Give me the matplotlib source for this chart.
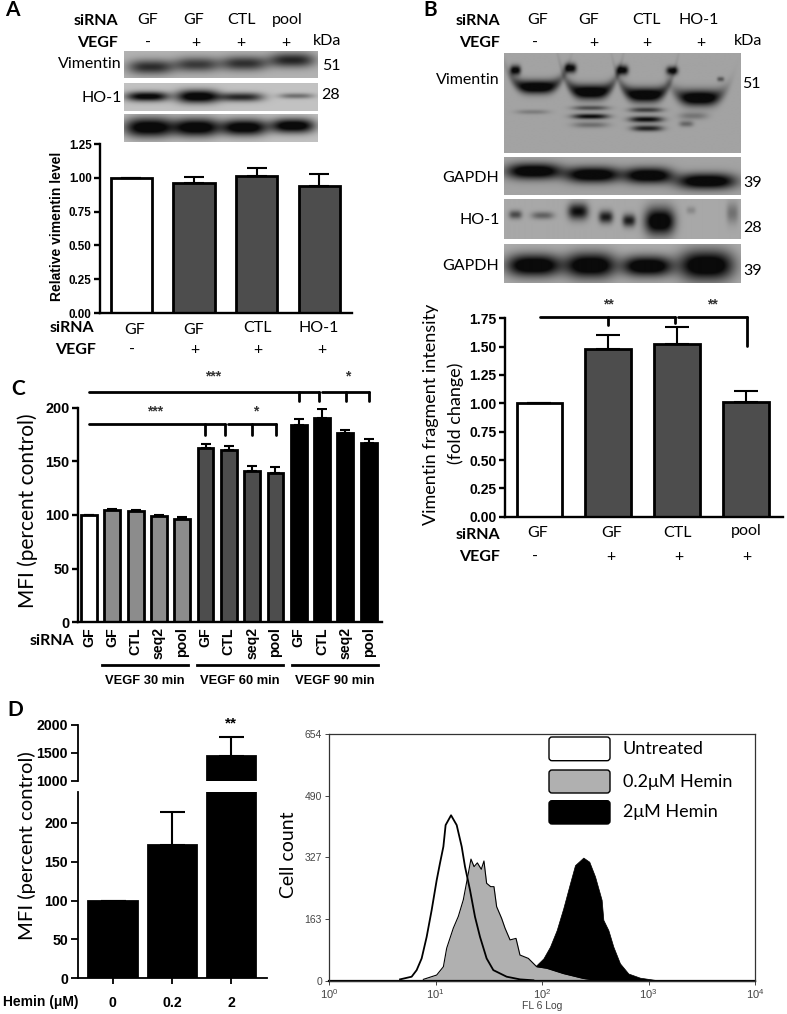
import numpy as np
import matplotlib
matplotlib.use("Agg")
import matplotlib.pyplot as plt
from matplotlib.patches import FancyBboxPatch

W, H = 787, 1014
LABEL_FONT = ["Lato", "DejaVu Sans"]
TICK_FONT = "Liberation Sans"
DARK = "#4d4d4d"
MID = "#8c8c8c"

plt.rcParams["font.family"] = LABEL_FONT

# Panel A
A_VALUES = [1.00, 0.96, 1.01, 0.94]
A_ERRORS = [0.0, 0.045, 0.065, 0.085]
A_TICKS = [0.00, 0.25, 0.50, 0.75, 1.00, 1.25]

# Panel B
B_VALUES = [1.00, 1.48, 1.52, 1.01]
B_ERRORS = [0.0, 0.12, 0.15, 0.10]
B_TICKS = [0.00, 0.25, 0.50, 0.75, 1.00, 1.25, 1.50, 1.75]

# Panel C
C_LABELS = ["GF", "GF", "CTL", "seq2", "pool", "GF", "CTL", "seq2", "pool", "GF", "CTL", "seq2", "pool"]
C_VALUES = [100, 105, 104, 99, 96, 162, 161, 141, 139, 184, 190, 176, 167]
C_ERRORS = [0, 0.5, 1, 1, 2, 4.5, 3.5, 4.5, 5.5, 5.5, 8.5, 3.5, 3.5]
C_GROUPS = ["VEGF 30 min", "VEGF 60 min", "VEGF 90 min"]
C_TICKS = [0, 50, 100, 150, 200]

# Panel D, bars
D_LABELS = ["0", "0.2", "2"]
D_VALUES = [100, 172, 1450]
D_ERRORS = [0, 42, 330]
D_TICKS_LOW = [0, 50, 100, 150, 200]
D_TICKS_HIGH = [1000, 1500, 2000]

# Panel D, histogram (log10 of FL6, cell count)
UNTREATED_LOG = [0.667, 0.776, 0.823, 0.870, 0.917, 0.964, 1.011, 1.042, 1.074, 1.095, 1.146, 1.199,
                 1.246, 1.277, 1.324, 1.371, 1.418, 1.480, 1.543, 1.668, 1.793, 1.919]
UNTREATED_COUNT = [3.5, 10.6, 28, 59, 116, 187, 266, 311, 355, 412, 438, 412,
                   355, 302, 240, 169, 116, 59, 28, 10.6, 3.5, 1]
LOW_HEMIN_LOG = [0.886, 1.011, 1.074, 1.105, 1.167, 1.214, 1.261, 1.308, 1.333, 1.362, 1.393, 1.430, 1.455, 1.480,
                 1.518, 1.549, 1.574, 1.621, 1.653, 1.700, 1.756, 1.793, 1.872, 1.950, 2.044, 2.200, 2.388, 2.513]
LOW_HEMIN_COUNT = [3.5, 15, 37, 86, 139, 170, 214, 284, 322, 302, 312, 295, 317, 258,
                   249, 249, 196, 165, 139, 108, 112, 68, 59, 37, 33, 19, 6, 1]
HIGH_HEMIN_LOG = [1.919, 2.013, 2.075, 2.138, 2.200, 2.263, 2.310, 2.357, 2.388, 2.444, 2.498, 2.560, 2.576,
                  2.623, 2.670, 2.732, 2.811, 2.920, 3.077, 3.171]
HIGH_HEMIN_COUNT = [33, 59, 90, 134, 192, 258, 306, 318, 326, 315, 276, 214, 161,
                    134, 90, 46, 19, 8, 1.5, 0.5]
HIST_TICKS = [0, 163, 327, 490, 654]

fig = plt.figure(figsize=(W / 100, H / 100), dpi=100, facecolor="white")


def px_ax(left, top, right, bottom):
    return fig.add_axes([left / W, 1 - bottom / H, (right - left) / W, (bottom - top) / H])


# x0, x1, y, thickness, strength, smile (all as fractions of the blot)
def blot(left, top, right, bottom, bands, bg=0.72):
    ax = px_ax(left, top, right, bottom)
    nx, ny = int((right - left) * 2), int((bottom - top) * 2)
    xx, yy = np.meshgrid(np.linspace(0, 1, nx), np.linspace(0, 1, ny))
    dark = np.zeros_like(xx)
    for x0, x1, y, th, s, smile in bands:
        mid, hw = (x0 + x1) / 2, (x1 - x0) / 2
        along = np.exp(-np.abs((xx - mid) / hw) ** 3)
        yc = y - smile * ((xx - mid) / hw) ** 4
        dark += s * along * np.exp(-np.abs((yy - yc) / (th * 1.2)) ** 2)
    img = bg * (1 - np.clip(dark, 0, 1)) + 0.04
    ax.imshow(img, cmap="gray", vmin=0, vmax=1, aspect="auto", interpolation="bilinear")
    ax.axis("off")


blot(124, 50.7, 318, 78.3, [(0.02, 0.255, 0.61, 0.22, 0.8, 0), (0.26, 0.49, 0.52, 0.22, 0.72, 0),
                            (0.50, 0.74, 0.48, 0.22, 0.78, 0), (0.75, 0.985, 0.36, 0.22, 0.85, 0)], 0.66)
blot(124, 82.7, 318, 110.7, [(0.01, 0.23, 0.50, 0.14, 1.1, 0), (0.27, 0.49, 0.50, 0.19, 1.2, 0),
                             (0.49, 0.72, 0.52, 0.13, 0.85, 0), (0.80, 0.98, 0.48, 0.08, 0.45, 0)], 0.72)
blot(124, 114.3, 318, 141.7, [(0.0, 0.26, 0.48, 0.30, 1.2, 0), (0.26, 0.49, 0.48, 0.28, 1.2, 0),
                              (0.50, 0.74, 0.48, 0.25, 1.2, 0), (0.76, 0.985, 0.42, 0.22, 1.2, 0)], 0.72)

blot(504, 53, 740.7, 152.7, [(0.025, 0.07, 0.17, 0.04, 1.1, 0), (0.255, 0.305, 0.15, 0.04, 1.1, 0),
                             (0.475, 0.525, 0.17, 0.04, 1.1, 0), (0.685, 0.735, 0.175, 0.035, 1.0, 0),
                             (0.90, 0.93, 0.26, 0.02, 0.5, 0),
                             (0.04, 0.235, 0.34, 0.055, 1.3, 0.06), (0.27, 0.46, 0.39, 0.06, 1.3, 0.08),
                             (0.50, 0.69, 0.42, 0.06, 1.3, 0.08), (0.73, 0.92, 0.45, 0.065, 1.3, 0.04),
                             (0.05, 0.19, 0.59, 0.02, 0.25, 0),
                             (0.29, 0.44, 0.55, 0.02, 0.55, 0), (0.29, 0.44, 0.635, 0.022, 1.0, 0),
                             (0.29, 0.44, 0.72, 0.025, 0.35, 0),
                             (0.53, 0.67, 0.57, 0.022, 0.65, 0), (0.53, 0.67, 0.665, 0.025, 1.0, 0),
                             (0.54, 0.67, 0.755, 0.025, 0.85, 0),
                             (0.74, 0.86, 0.63, 0.03, 0.3, 0), (0.74, 0.80, 0.71, 0.025, 0.4, 0)], 0.60)
blot(504, 156.7, 740.7, 195, [(0.01, 0.24, 0.39, 0.17, 1.3, 0), (0.26, 0.49, 0.48, 0.17, 1.3, 0),
                              (0.51, 0.71, 0.50, 0.17, 1.3, 0), (0.73, 0.98, 0.65, 0.17, 1.3, 0)], 0.60)
blot(504, 199.3, 740.7, 239.3, [(0.02, 0.075, 0.39, 0.09, 0.6, 0), (0.115, 0.21, 0.41, 0.08, 0.45, 0),
                                (0.27, 0.355, 0.31, 0.17, 1.0, 0), (0.40, 0.46, 0.45, 0.13, 0.9, 0),
                                (0.50, 0.555, 0.54, 0.13, 0.9, 0), (0.595, 0.72, 0.56, 0.28, 1.3, 0),
                                (0.77, 0.81, 0.28, 0.08, 0.2, 0), (0.94, 0.99, 0.35, 0.22, 0.35, 0)], 0.62)
blot(504, 244.3, 740.7, 283.3, [(0.01, 0.24, 0.55, 0.24, 1.3, 0), (0.26, 0.47, 0.55, 0.27, 1.3, 0),
                                (0.50, 0.71, 0.57, 0.22, 1.3, 0), (0.74, 0.97, 0.55, 0.32, 1.3, 0)], 0.64)


def style_axes(ax, ticks, fmt, size, ticklen=4, lw=1.7):
    ax.spines["top"].set_visible(False)
    ax.spines["right"].set_visible(False)
    ax.spines["left"].set_linewidth(lw)
    ax.spines["bottom"].set_linewidth(lw)
    ax.set_yticks(ticks)
    ax.set_yticklabels([fmt % t for t in ticks], family=TICK_FONT, weight="bold", fontsize=size)
    ax.tick_params(axis="y", length=ticklen, width=lw, pad=2)
    ax.tick_params(axis="x", length=0)
    ax.set_xticks([])
    ax.patch.set_alpha(0)


def bars(ax, values, errors, colors, width, capsize, lw=2.0):
    xs = np.arange(len(values))
    ax.bar(xs, values, width=width, color=colors, edgecolor="black", linewidth=lw,
           yerr=[np.zeros(len(errors)), errors],
           error_kw=dict(ecolor="black", elinewidth=1.5, capsize=capsize, capthick=1.5))


def bracket(ax, x0, x1, y, drops, low):
    ax.plot([x0, x1], [y, y], color="black", lw=2.0, clip_on=False, solid_capstyle="round")
    for d, end in zip(drops, low):
        ax.plot([d, d], [y, end], color="black", lw=2.0, clip_on=False, solid_capstyle="round")


# Panel A chart
ax_a = px_ax(100, 144, 352, 313)
bars(ax_a, A_VALUES, A_ERRORS, ["white", DARK, DARK, DARK], 0.66, 7.2)
ax_a.set_xlim(-0.5, 3.52)
ax_a.set_ylim(0, 1.25)
style_axes(ax_a, A_TICKS, "%.2f", 8.4)

# Panel B chart
ax_b = px_ax(505, 318.3, 782.7, 516.7)
bars(ax_b, B_VALUES, B_ERRORS, ["white", DARK, DARK, DARK], 0.66, 8.4)
ax_b.set_xlim(-0.497, 3.53)
ax_b.set_ylim(0, 1.75)
style_axes(ax_b, B_TICKS, "%.2f", 10)
bracket(ax_b, 0.01, 1.97, 1.758, [0.99, 1.97], [1.69, 1.71])
bracket(ax_b, 2.01, 3.01, 1.758, [3.01], [1.505])

# Panel C chart
ax_c = px_ax(77.7, 407.7, 381.7, 622.3)
c_colors = ["white"] + [MID] * 4 + [DARK] * 4 + ["black"] * 4
bars(ax_c, C_VALUES, C_ERRORS, c_colors, 0.68, 3.6)
ax_c.set_xlim(-0.485, 12.56)
ax_c.set_ylim(0, 200)
style_axes(ax_c, C_TICKS, "%d", 10.4)
ax_c.set_xticks(np.arange(len(C_LABELS)))
ax_c.set_xticklabels(C_LABELS, rotation=90, family=TICK_FONT, weight="bold", fontsize=10.2)
ax_c.tick_params(axis="x", length=0, pad=3.5)
bracket(ax_c, 0, 9.87, 215, [9.01, 9.87], [206, 206])
bracket(ax_c, 10.0, 12.03, 215, [11.02, 12.03], [206, 206])
bracket(ax_c, 0, 5.84, 184.5, [4.98, 5.84], [174.6, 174.6])
bracket(ax_c, 5.98, 8.03, 184.5, [7.0, 8.03], [174.6, 174.6])

# Panel D broken bars
ax_d_low = px_ax(77.7, 791.7, 266.7, 978.3)
ax_d_high = px_ax(77.7, 725, 266.7, 780.7)
bars(ax_d_low, D_VALUES, [0, D_ERRORS[1], 0], "black", 0.82, 9)
ax_d_low.set_xlim(-0.59, 2.6)
ax_d_low.set_ylim(0, 240)
style_axes(ax_d_low, D_TICKS_LOW, "%d", 10.2, ticklen=5, lw=1.3)
ax_d_low.set_xticks(np.arange(len(D_LABELS)))
ax_d_low.set_xticklabels(D_LABELS, family=TICK_FONT, weight="bold", fontsize=10.2)
ax_d_low.tick_params(axis="x", length=4, width=1.3, pad=8.5)

ax_d_high.bar([2], [D_VALUES[2] - 1000], bottom=1000, width=0.82, color="black", edgecolor="black", linewidth=2,
              yerr=[[0], [D_ERRORS[2]]], error_kw=dict(ecolor="black", elinewidth=1.5, capsize=9, capthick=1.5))
ax_d_high.set_xlim(-0.59, 2.6)
ax_d_high.set_ylim(1000, 2000)
style_axes(ax_d_high, D_TICKS_HIGH, "%d", 10.2, ticklen=5, lw=1.3)
ax_d_high.spines["bottom"].set_visible(False)

# Panel D histogram
ax_h = px_ax(329, 733.7, 755, 980.7)
ax_h.fill_between(10.0 ** np.array(HIGH_HEMIN_LOG), HIGH_HEMIN_COUNT, color="black", lw=0.5)
ax_h.fill_between(10.0 ** np.array(LOW_HEMIN_LOG), LOW_HEMIN_COUNT, color="#b0b0b0", lw=0)
ax_h.plot(10.0 ** np.array(LOW_HEMIN_LOG), LOW_HEMIN_COUNT, color="black", lw=0.8)
ax_h.plot(10.0 ** np.array(UNTREATED_LOG), UNTREATED_COUNT, color="black", lw=1.3)
ax_h.axhline(0, color="black", lw=1.6, clip_on=False)
ax_h.set_xscale("log")
ax_h.set_xlim(1, 10000)
ax_h.set_ylim(0, 654)
ax_h.set_yticks(HIST_TICKS)
ax_h.set_yticklabels([str(t) for t in HIST_TICKS], family=TICK_FONT, fontsize=7.5, color="#444444")
ax_h.set_xticks([1, 10, 100, 1000, 10000])
ax_h.set_xticklabels(["$\\mathregular{10^{%d}}$" % i for i in range(5)], family=TICK_FONT, fontsize=8, color="#444444")
ax_h.minorticks_off()
ax_h.tick_params(axis="both", length=3, width=0.7, color="#444444", pad=2)
for sp in ax_h.spines.values():
    sp.set_linewidth(0.9)
    sp.set_color("#333333")

# everything placed by reference pixel goes on this overlay
ov = fig.add_axes([0, 0, 1, 1], zorder=10)
ov.set_xlim(0, W)
ov.set_ylim(H, 0)
ov.axis("off")


def txt(x, y, s, size=11.5, bold=False, ha="center", family=LABEL_FONT, rot=0, color="black"):
    ov.text(x, y, s, fontsize=size, fontweight="bold" if bold else "normal", ha=ha, va="center",
            family=family, rotation=rot, color=color)


for x, y, s in [(12, 10, "A"), (430, 10, "B"), (18, 389, "C"), (15, 710, "D")]:
    txt(x, y, s, size=15, bold=True, ha="center")

# A header
txt(118, 21, "siRNA", bold=True, ha="right")
txt(118, 43, "VEGF", bold=True, ha="right")
for x, s in [(148, "GF"), (194, "GF"), (241, "CTL"), (287, "pool")]:
    txt(x, 20, s)
for x, s in [(148, "-"), (196, "+"), (241, "+"), (286, "+")]:
    txt(x, 43, s)
txt(327, 41, "kDa")
txt(122, 64, "Vimentin", ha="right")
txt(122, 98, "HO-1", ha="right")
txt(331, 66, "51")
txt(331, 95, "28")
# A footer
txt(94, 328, "siRNA", bold=True, ha="right")
txt(96, 350, "VEGF", bold=True, ha="right")
for x, y, s in [(135, 330, "GF"), (194, 330, "GF"), (258, 328, "CTL"), (319, 328, "HO-1")]:
    txt(x, y, s)
for x, s in [(132, "-"), (195, "+"), (258, "+"), (322, "+")]:
    txt(x, 350, s)
txt(57, 226, "Relative vimentin level", size=10, bold=True, family=TICK_FONT, rot=90)

# B header
txt(500, 21, "siRNA", bold=True, ha="right")
txt(500, 43, "VEGF", bold=True, ha="right")
for x, s in [(537.7, "GF"), (589, "GF"), (646.7, "CTL"), (699, "HO-1")]:
    txt(x, 20, s)
for x, s in [(535, "-"), (594, "+"), (647, "+"), (701, "+")]:
    txt(x, 43, s)
txt(748, 41, "kDa")
txt(500, 80, "Vimentin", ha="right")
txt(499, 178, "GAPDH", ha="right")
txt(500, 220, "HO-1", ha="right")
txt(499, 266, "GAPDH", ha="right")
for x, y, s in [(751, 84, "51"), (752.7, 183, "39"), (752.7, 228, "28"), (752.7, 271, "39")]:
    txt(x, y, s)
# B footer
txt(500, 535, "siRNA", bold=True, ha="right")
txt(500, 556.7, "VEGF", bold=True, ha="right")
for x, y, s in [(537.7, 533, "GF"), (611.7, 533, "GF"), (678, 533, "CTL"), (746.7, 531, "pool")]:
    txt(x, y, s)
for x, s in [(535, "-"), (611, "+"), (679, "+"), (747, "+")]:
    txt(x, 556.7, s)
txt(430.7, 414, "Vimentin fragment intensity", size=13, rot=90)
txt(455.7, 413, "(fold change)", size=13, rot=90)
txt(608, 304, "**", size=10, bold=True, family=TICK_FONT, color="#333333")
txt(712, 304, "**", size=10, bold=True, family=TICK_FONT, color="#333333")

# C extras
txt(74, 640.7, "siRNA", bold=True, ha="right")
txt(28, 511, "MFI (percent control)", size=15, rot=90)
for x, s in [(213, "***"), (348, "*")]:
    txt(x, 376, s, size=10, bold=True, family=TICK_FONT, color="#333333")
for x, s in [(155, "***"), (255.7, "*")]:
    txt(x, 411, s, size=10, bold=True, family=TICK_FONT, color="#333333")
for (x0, x1), xc, s in zip([(101.7, 188), (196.7, 283), (291.7, 378)], [145, 240, 335], C_GROUPS):
    ov.plot([x0, x1], [665, 665], color="black", lw=2.0)
    txt(xc, 680.7, s, size=9.3, bold=True, family=TICK_FONT)

# D extras
txt(27, 846, "MFI (percent control)", size=14.6, rot=90)
txt(41, 1002, "Hemin (\u03bcM)", size=10, bold=True, family=TICK_FONT)
txt(231, 723, "**", size=11, bold=True, family=TICK_FONT)

# histogram key
for y0, y1, col, s in [(737, 760.7, "white", "Untreated"), (770, 793, "#b0b0b0", "0.2\u03bcM Hemin"),
                       (800.7, 824, "black", "2\u03bcM Hemin")]:
    ov.add_patch(FancyBboxPatch((551, y0 + 2), 57, y1 - y0 - 4, boxstyle="round,pad=2,rounding_size=3",
                                facecolor=col, edgecolor="black", lw=1.0))
    txt(623, (y0 + y1) / 2, s, size=13, ha="left")
txt(288, 855, "Cell count", size=14, rot=90)
txt(542, 1006, "FL 6 Log", size=7.5, family=TICK_FONT, color="#444444")

fig.savefig("out.png", dpi=100, facecolor="white")
